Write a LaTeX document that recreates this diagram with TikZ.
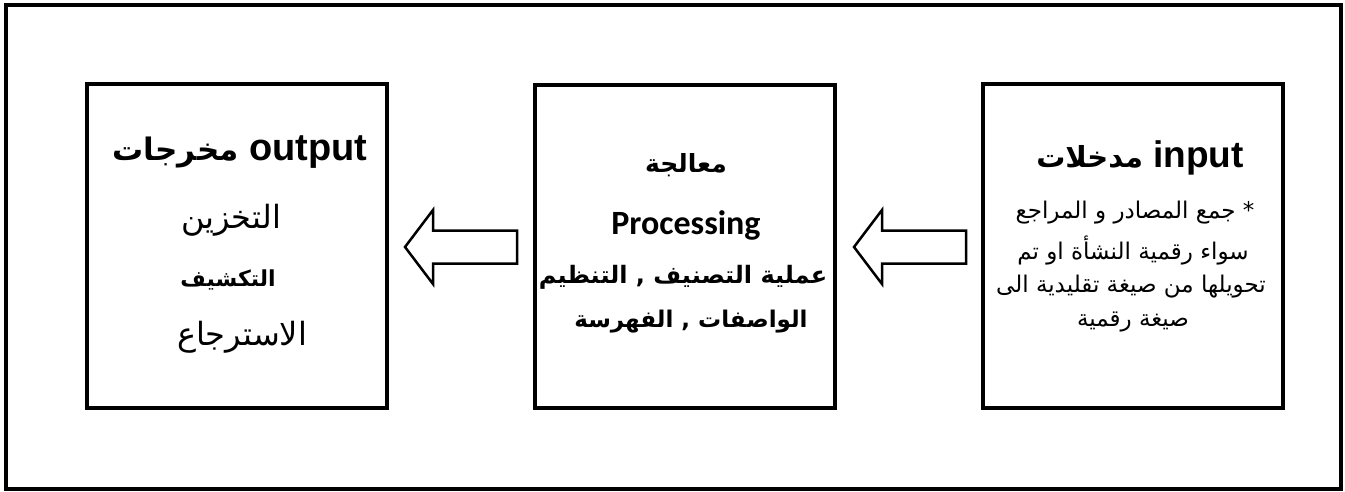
\documentclass[tikz,border=0pt]{standalone}
\usepackage{fontspec}
\setmainfont{Liberation Sans}
\newfontfamily\arabicfont[Script=Arabic]{DejaVu Sans}
\newfontfamily\calib{Carlito}
\TeXXeTstate=1
\begin{document}
\begin{tikzpicture}[x=1pt,y=-1pt,
  box/.style={draw, line width=4pt, minimum width=300pt, minimum height=323pt, inner sep=0pt},
  blockarrow/.style={draw, line width=2.5pt, line join=miter},
  txt/.style={inner sep=0pt, anchor=center}]
\useasboundingbox (0,0) rectangle (1345,492);
\draw[line width=4pt] (6,5) rectangle (1341,489);
% boxes
\node[box] (outbox) at (237,246) {};
\node[box] (procbox) at (685,246.5) {};
\node[box] (inbox) at (1133,246) {};
% block arrows
\draw[blockarrow] (405,247) -- (433,210) -- (433,230.5) -- (517,230.5) -- (517,263.5) -- (433,263.5) -- (433,284) -- cycle;
\draw[blockarrow] (854,247) -- (882,210) -- (882,230.5) -- (966,230.5) -- (966,263.5) -- (882,263.5) -- (882,284) -- cycle;
% output box
\node[txt, font=\bfseries\fontsize{38}{40}\selectfont] (outt) at (240,152) {{\arabicfont\fontsize{31}{34}\selectfont\beginR مخرجات\endR}\ output};
\node[txt, font=\arabicfont\fontsize{32}{36}\selectfont] (out1) at (231,220) {\beginR التخزين\endR};
\node[txt, font=\arabicfont\bfseries\fontsize{22}{26}\selectfont] (out2) at (228,280) {\beginR التكشيف\endR};
\node[txt, font=\arabicfont\fontsize{32}{36}\selectfont] (out3) at (242,337) {\beginR الاسترجاع\endR};
% processing box
\node[txt, font=\arabicfont\bfseries\fontsize{25}{28}\selectfont] (proct) at (686,165) {\beginR معالجة\endR};
\node[txt, font=\calib\bfseries\fontsize{34}{38}\selectfont] (proc1) at (686,225) {Processing};
\node[txt, font=\arabicfont\bfseries\fontsize{24}{28}\selectfont] (proc2) at (683,277) {\beginR عملية التصنيف , التنظيم\endR};
\node[txt, font=\arabicfont\bfseries\fontsize{23}{28}\selectfont] (proc3) at (691,322) {\beginR الواصفات , الفهرسة\endR};
% input box
\node[txt, font=\bfseries\fontsize{37}{40}\selectfont] (int) at (1140,158) {{\arabicfont\fontsize{29}{34}\selectfont\beginR مدخلات\endR}\ input};
\node[txt, font=\arabicfont\fontsize{23}{26}\selectfont] (in1) at (1135,213) {\beginR * جمع المصادر و المراجع\endR};
\node[txt, font=\arabicfont\fontsize{23}{26}\selectfont] (in2) at (1133,250) {\beginR سواء رقمية النشأة او تم\endR};
\node[txt, font=\arabicfont\fontsize{23}{26}\selectfont] (in3) at (1131,287) {\beginR تحويلها من صيغة تقليدية الى\endR};
\node[txt, font=\arabicfont\fontsize{23}{26}\selectfont] (in4) at (1133,322) {\beginR صيغة رقمية\endR};
\end{tikzpicture}
\end{document}
